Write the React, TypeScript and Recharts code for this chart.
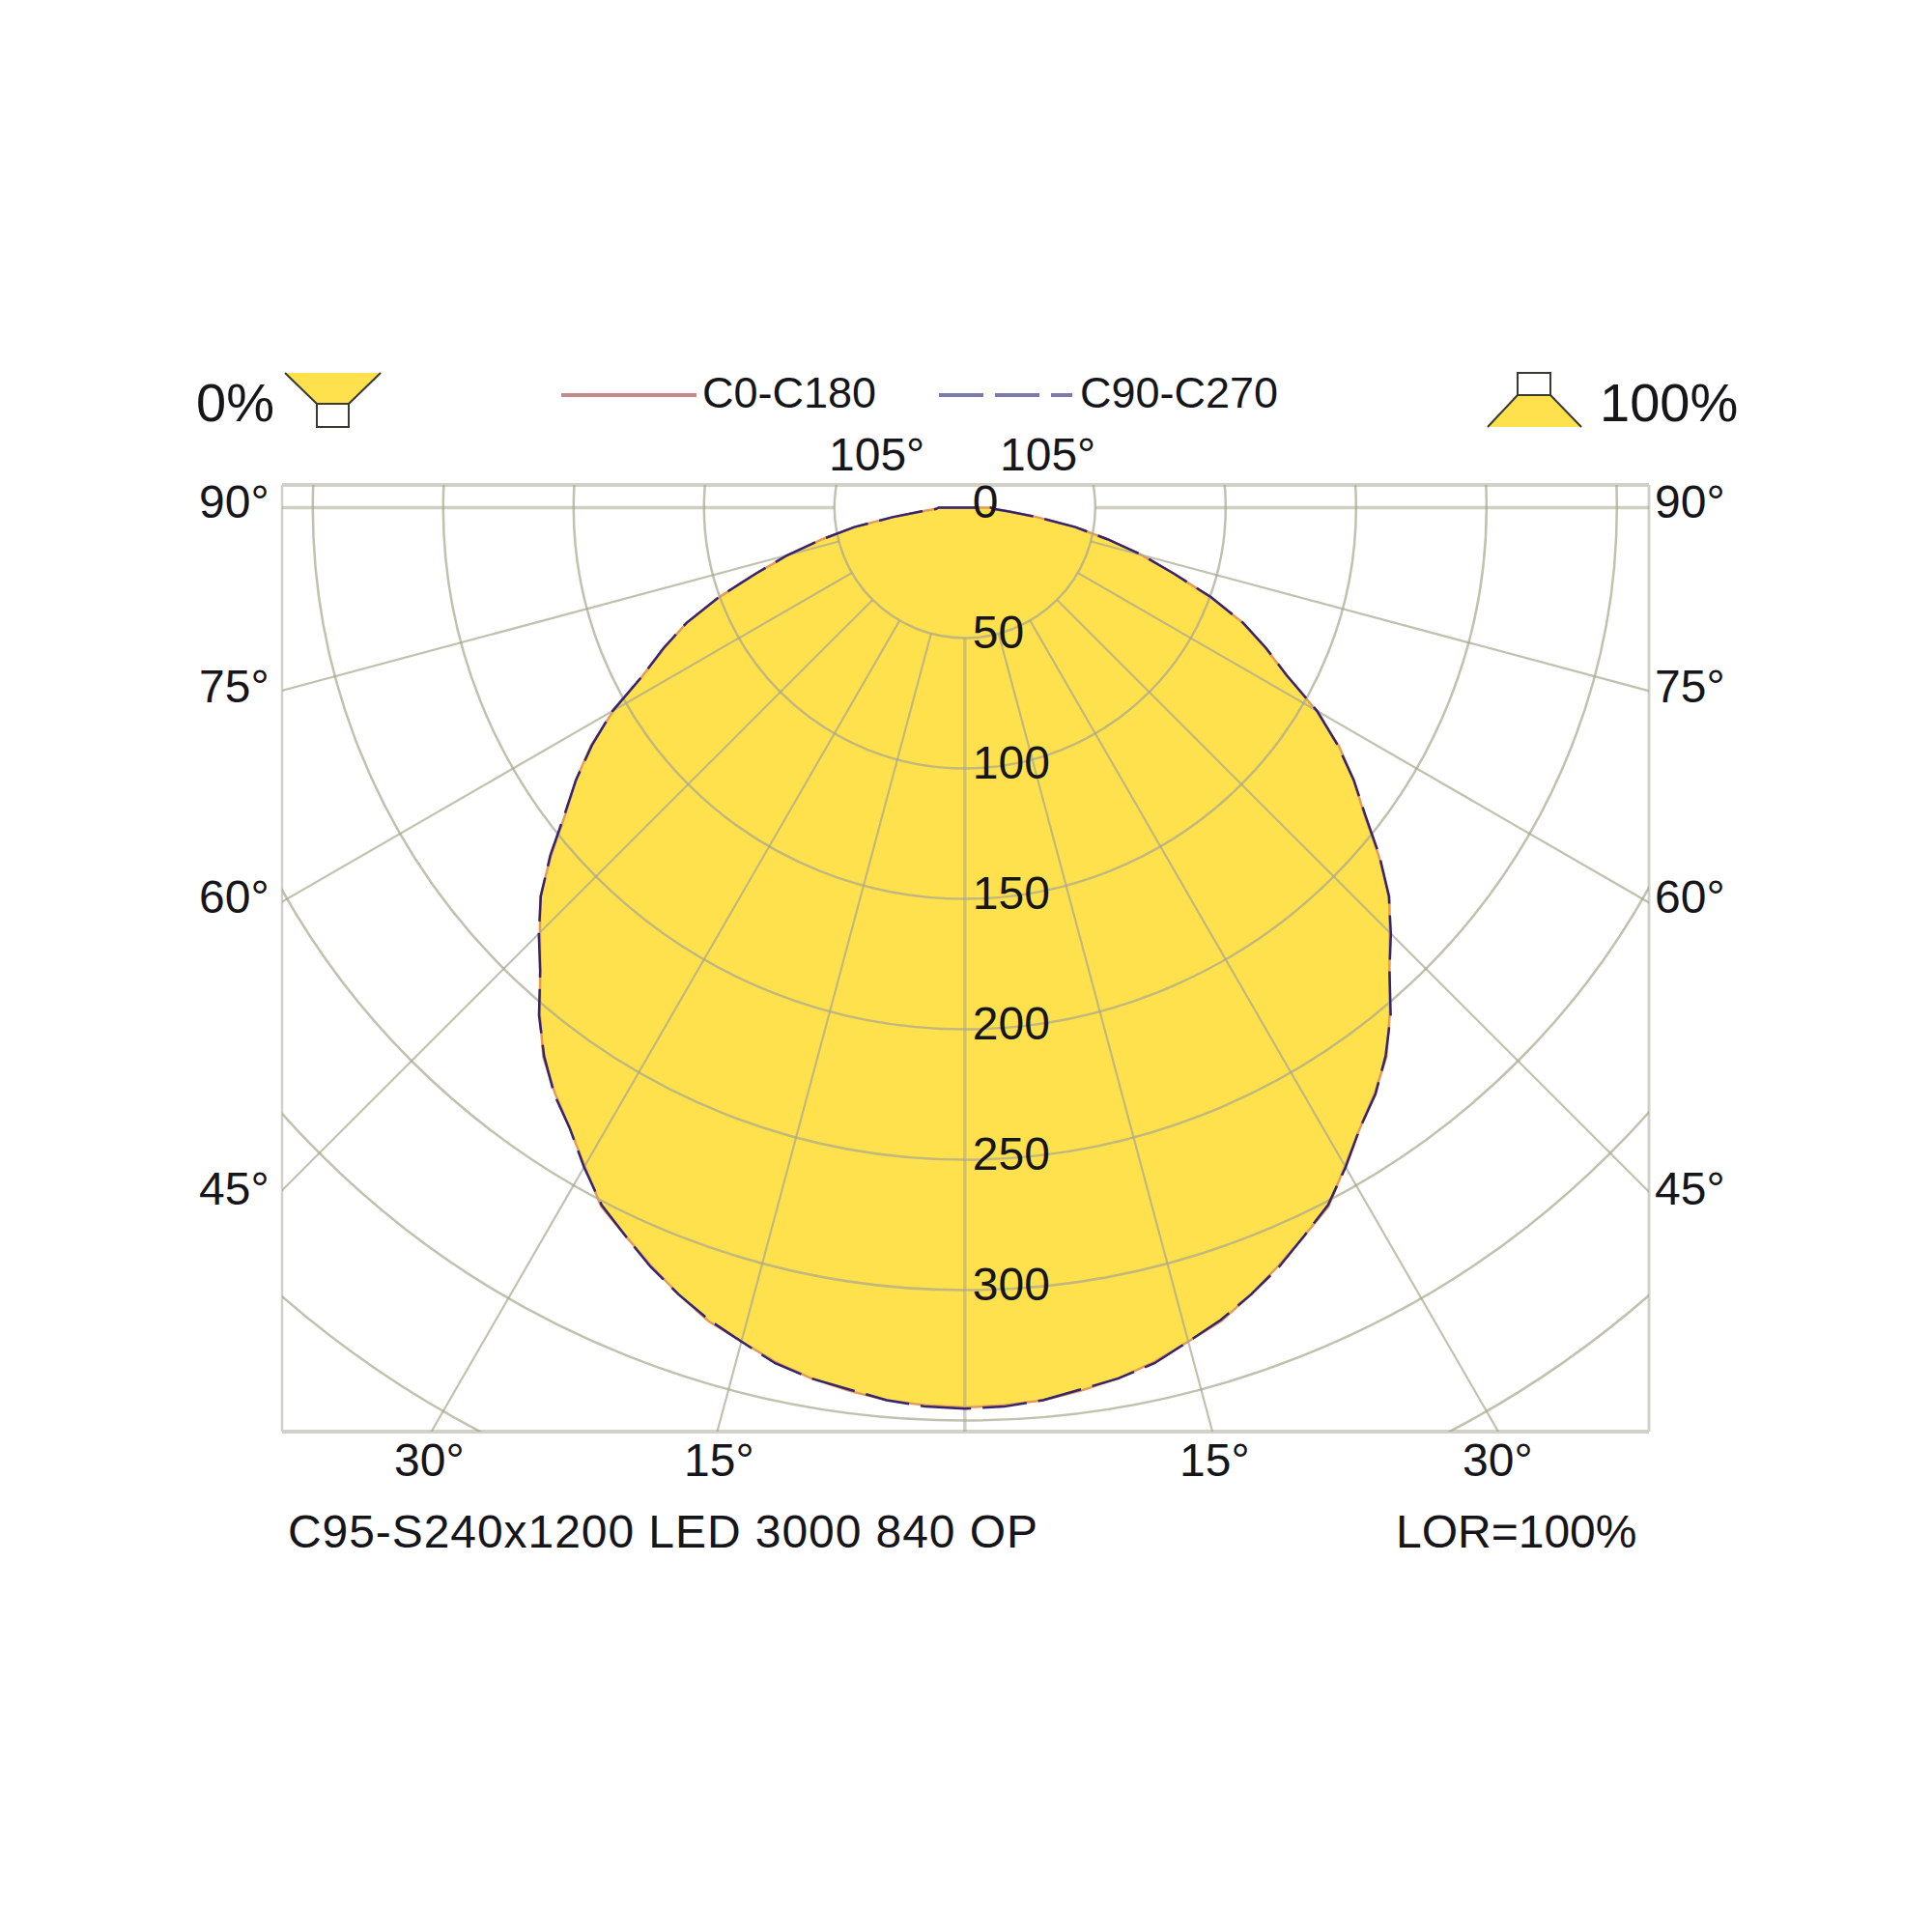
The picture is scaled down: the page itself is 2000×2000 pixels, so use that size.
import { RadarChart, Radar, PolarGrid, PolarAngleAxis, PolarRadiusAxis } from 'recharts'

// ─── Data ────────────────────────────────────────────────────────────────────

// cd/klm, every 2.5 degrees from straight down (0) to horizontal (90)
const C0_HALF = [
  345, 344.5, 343.5, 341.5, 339, 335.5, 331, 327, 321, 314.5, 308, 302, 291.5, 282, 274, 265.5, 253.5, 241,
  230.4, 220.8, 207, 193, 182, 170, 155.5, 139, 127, 115.5, 100, 84, 70, 56, 43, 28, 17, 11, 10,
]
const C90_HALF = [
  345.5, 345, 343.5, 341, 339, 336, 331, 326.5, 321, 315, 308, 301.5, 292, 282, 274.5, 265, 254, 241,
  231, 220.5, 207.5, 193.5, 182, 169.5, 156, 139, 127.5, 115.5, 100.5, 84, 70.5, 56, 43, 28, 17, 11, 10,
]
// nothing is emitted upwards
const REAR = new Array(71).fill(0)

const c0Values = [...C0_HALF, ...REAR, ...C0_HALF.slice(1).reverse()]
const c90Values = [...C90_HALF, ...REAR, ...C90_HALF.slice(1).reverse()]
const chartData = c0Values.map((c0, i) => ({ angle: i * 2.5, c0, c90: c90Values[i] }))

const RING_VALUES = [50, 100, 150, 200, 250, 300, 350, 400]
const SPOKE_ANGLES = [15, 30, 45, 60, 75]
const RADIUS_TICKS = [0, 50, 100, 150, 200, 250, 300]

const SIDE_LABELS = [
  { text: '90°', y: 536 },
  { text: '75°', y: 727 },
  { text: '60°', y: 945 },
  { text: '45°', y: 1247 },
]
const BOTTOM_LABELS = [
  { text: '30°', x: 408 },
  { text: '15°', x: 708 },
  { text: '15°', x: 1221 },
  { text: '30°', x: 1514 },
]

// ─── Layout ──────────────────────────────────────────────────────────────────

const FRAME = { left: 292, top: 502, right: 1707, bottom: 1482 }
const CENTER = { x: 998.8, y: 525.5 }
const R_MAX = 400
const OUTER_R = 1080
const toPx = (v: number) => (v * OUTER_R) / R_MAX

const FONT = '"Liberation Sans", Arial, sans-serif'
const TEXT = '#15151a'
const GRID = '#a8a78f'
const YELLOW = '#ffe14e'
const ICON_LINE = '#3a3a30'

// the same polar geometry for every layer; the lower layers are cut off by the frame
const frameChart = {
  width: FRAME.right - FRAME.left,
  height: FRAME.bottom - FRAME.top,
  data: chartData,
  cx: CENTER.x - FRAME.left,
  cy: CENTER.y - FRAME.top,
  innerRadius: 0,
  outerRadius: OUTER_R,
  startAngle: -90,
  endAngle: -450,
  margin: { top: 0, right: 0, bottom: 0, left: 0 },
}
const layerAt = (left: number, top: number) => ({ position: 'absolute' as const, left, top })

const hiddenAngleAxis = <PolarAngleAxis dataKey="angle" tick={false} axisLine={false} tickLine={false} />
const hiddenRadiusAxis = <PolarRadiusAxis domain={[0, R_MAX]} tick={false} axisLine={false} tickLine={false} />

const RadiusTick = ({ x, y, payload }: any) => {
  if (!RADIUS_TICKS.includes(payload.value)) return <g />
  return (
    <text x={x + 8} y={y + 10} fontSize={48} fontFamily={FONT} fill={TEXT}>
      {payload.value}
    </text>
  )
}

export default function App() {
  return (
    <div style={{ position: 'absolute', left: 0, top: 0, width: 2000, height: 2000, background: '#fff' }}>
      <svg width={2000} height={2000} style={layerAt(0, 0)} fontFamily={FONT} fill={TEXT}>
        {/* frame */}
        <line x1={FRAME.left} x2={FRAME.right} y1={FRAME.top} y2={FRAME.top} stroke="#d2d1c9" strokeWidth={4} />
        <line x1={FRAME.left} x2={FRAME.right} y1={FRAME.bottom} y2={FRAME.bottom} stroke="#d2d1c9" strokeWidth={4} />
        <line x1={FRAME.left} x2={FRAME.left} y1={FRAME.top} y2={FRAME.bottom} stroke="#d2d1c9" strokeWidth={2.5} />
        <line x1={FRAME.right} x2={FRAME.right} y1={FRAME.top} y2={FRAME.bottom} stroke="#d2d1c9" strokeWidth={3} />

        {/* 0% icon */}
        <polygon points="295,386 394,386 361,418 328,418" fill={YELLOW} />
        <line x1={295} y1={386} x2={328} y2={418} stroke={ICON_LINE} strokeWidth={2} />
        <line x1={394} y1={386} x2={361} y2={418} stroke={ICON_LINE} strokeWidth={2} />
        <rect x={328} y={418} width={33} height={24} fill="#fff" stroke={ICON_LINE} strokeWidth={2} />
        <text x={203} y={436} fontSize={56}>0%</text>

        {/* legend */}
        <line x1={581} x2={721} y1={409} y2={409} stroke="#c48a88" strokeWidth={4} />
        <text x={727} y={422} fontSize={45}>C0-C180</text>
        <line x1={972} x2={1110} y1={409} y2={409} stroke="#7a7ab0" strokeWidth={4} strokeDasharray="46 12" />
        <text x={1118} y={422} fontSize={45}>C90-C270</text>

        {/* 100% icon */}
        <polygon points="1571,409 1605,409 1637,442 1540,442" fill={YELLOW} />
        <line x1={1571} y1={409} x2={1540} y2={442} stroke={ICON_LINE} strokeWidth={2} />
        <line x1={1605} y1={409} x2={1637} y2={442} stroke={ICON_LINE} strokeWidth={2} />
        <rect x={1571} y={386} width={34} height={23} fill="#fff" stroke={ICON_LINE} strokeWidth={2} />
        <text x={1656} y={436} fontSize={56}>100%</text>

        {/* angle labels */}
        <text x={858} y={487} fontSize={48}>105°</text>
        <text x={1035} y={487} fontSize={48}>105°</text>
        {SIDE_LABELS.map((l) => (
          <g key={l.text}>
            <text x={206} y={l.y} fontSize={48}>{l.text}</text>
            <text x={1713} y={l.y} fontSize={48}>{l.text}</text>
          </g>
        ))}
        {BOTTOM_LABELS.map((l) => (
          <text key={l.x} x={l.x} y={1528} fontSize={48}>{l.text}</text>
        ))}

        {/* footer */}
        <text x={298} y={1602} fontSize={48} textLength={776}>C95-S240x1200 LED 3000 840 OP</text>
        <text x={1445} y={1602} fontSize={48}>LOR=100%</text>
      </svg>

      {/* yellow distribution under the grid */}
      <div style={layerAt(FRAME.left, FRAME.top)}>
        <RadarChart {...frameChart}>
          {hiddenAngleAxis}
          {hiddenRadiusAxis}
          <Radar
            name="C0-C180"
            dataKey="c0"
            stroke="#e59a5c"
            strokeWidth={2.5}
            fill={YELLOW}
            fillOpacity={1}
            isAnimationActive={false}
          />
        </RadarChart>
      </div>

      {/* spokes start at the 50 ring and run out past the frame */}
      <div style={layerAt(FRAME.left, FRAME.top)}>
        <RadarChart {...frameChart} innerRadius={toPx(50)} outerRadius={1500}>
          {hiddenAngleAxis}
          {hiddenRadiusAxis}
          <PolarGrid
            polarRadius={[]}
            polarAngles={SPOKE_ANGLES.flatMap((a) => [-90 - a, -90 + a])}
            stroke={GRID}
            strokeOpacity={0.7}
            strokeWidth={2.2}
          />
          <PolarGrid
            polarRadius={[]}
            polarAngles={[-90, 180, 0]}
            stroke={GRID}
            strokeOpacity={0.55}
            strokeWidth={3.5}
          />
        </RadarChart>
      </div>

      {/* rings and the dashed curve on top of the fill */}
      <div style={layerAt(FRAME.left, FRAME.top)}>
        <RadarChart {...frameChart}>
          {hiddenAngleAxis}
          {hiddenRadiusAxis}
          <PolarGrid
            gridType="circle"
            radialLines={false}
            polarRadius={RING_VALUES.map(toPx)}
            polarAngles={[]}
            stroke={GRID}
            strokeOpacity={0.7}
            strokeWidth={2.5}
          />
          <Radar
            name="C90-C270"
            dataKey="c90"
            stroke="#35246f"
            strokeWidth={2.5}
            strokeDasharray="46 12"
            fill="none"
            fillOpacity={0}
            isAnimationActive={false}
          />
        </RadarChart>
      </div>

      {/* radius labels, free of the frame so the 0 is not cut */}
      <div style={layerAt(0, 0)}>
        <RadarChart {...frameChart} width={2000} height={2000} cx={CENTER.x} cy={CENTER.y}>
          {hiddenAngleAxis}
          <PolarRadiusAxis
            angle={-90}
            domain={[0, R_MAX]}
            tickCount={9}
            axisLine={false}
            tickLine={false}
            tick={RadiusTick}
          />
          <Radar dataKey="c0" stroke="none" fill="none" fillOpacity={0} isAnimationActive={false} />
        </RadarChart>
      </div>
    </div>
  )
}
